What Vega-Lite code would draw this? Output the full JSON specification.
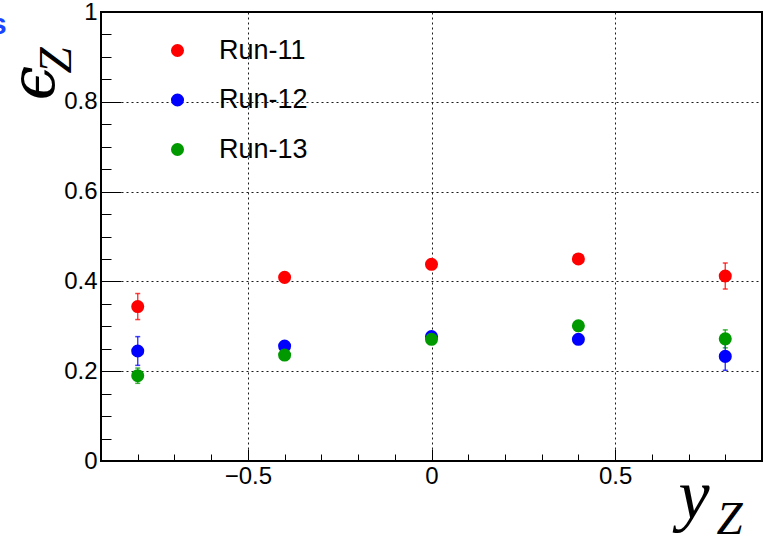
{
  "$schema": "https://vega.github.io/schema/vega-lite/v6.json",
  "width": 661,
  "height": 449,
  "autosize": {"type": "none"},
  "padding": {"left": 101, "top": 12, "right": 5, "bottom": 75},
  "background": "white",
  "title": {"text": "s", "anchor": "start", "frame": "group", "dx": -111, "offset": -40, "color": "#1a44ff", "fontSize": 30, "font": "Liberation Sans", "fontWeight": "bold"},
  "data": {
    "values": [
      {"run": "Run-11", "yz": -0.8, "eff": 0.344, "lo": 0.315, "hi": 0.373},
      {"run": "Run-11", "yz": -0.4, "eff": 0.409, "lo": 0.399, "hi": 0.419},
      {"run": "Run-11", "yz": 0.0, "eff": 0.438, "lo": 0.428, "hi": 0.448},
      {"run": "Run-11", "yz": 0.4, "eff": 0.450, "lo": 0.440, "hi": 0.460},
      {"run": "Run-11", "yz": 0.8, "eff": 0.412, "lo": 0.383, "hi": 0.441},
      {"run": "Run-12", "yz": -0.8, "eff": 0.245, "lo": 0.213, "hi": 0.277},
      {"run": "Run-12", "yz": -0.4, "eff": 0.256, "lo": 0.246, "hi": 0.266},
      {"run": "Run-12", "yz": 0.0, "eff": 0.277, "lo": 0.267, "hi": 0.287},
      {"run": "Run-12", "yz": 0.4, "eff": 0.271, "lo": 0.261, "hi": 0.281},
      {"run": "Run-12", "yz": 0.8, "eff": 0.233, "lo": 0.202, "hi": 0.264},
      {"run": "Run-13", "yz": -0.8, "eff": 0.190, "lo": 0.173, "hi": 0.207},
      {"run": "Run-13", "yz": -0.4, "eff": 0.236, "lo": 0.226, "hi": 0.246},
      {"run": "Run-13", "yz": 0.0, "eff": 0.271, "lo": 0.261, "hi": 0.281},
      {"run": "Run-13", "yz": 0.4, "eff": 0.301, "lo": 0.291, "hi": 0.311},
      {"run": "Run-13", "yz": 0.8, "eff": 0.272, "lo": 0.252, "hi": 0.292}
    ]
  },
  "resolve": {"axis": {"x": "independent", "y": "independent"}, "legend": {"color": "independent"}},
  "layer": [
    {
      "mark": {"type": "errorbar", "ticks": true, "thickness": 1.5},
      "encoding": {
        "x": {"field": "yz", "type": "quantitative", "scale": {"domain": [-0.9, 0.9], "nice": false, "zero": false},
              "axis": {"orient": "bottom", "values": [-0.8, -0.7, -0.6, -0.5, -0.4, -0.3, -0.2, -0.1, 0, 0.1, 0.2, 0.3, 0.4, 0.5, 0.6, 0.7, 0.8], "labels": false, "grid": false, "domain": false, "tickSize": -7, "title": "Z", "titleFontSize": 47, "titleFont": "Liberation Serif", "titleFontStyle": "italic", "titleX": 615, "titleY": 72, "titleAlign": "left", "titleBaseline": "alphabetic"}},
        "y": {"field": "lo", "type": "quantitative", "scale": {"domain": [0, 1], "nice": false, "zero": false},
              "axis": {"orient": "left", "values": [0, 0.05, 0.1, 0.15, 0.2, 0.25, 0.3, 0.35, 0.4, 0.45, 0.5, 0.55, 0.6, 0.65, 0.7, 0.75, 0.8, 0.85, 0.9, 0.95, 1], "labels": false, "grid": false, "domain": false, "tickSize": -10, "title": "Z", "titleFontSize": 47, "titleFont": "Liberation Serif", "titleFontStyle": "italic", "titleAngle": 270, "titleX": -31, "titleY": 61, "titleAlign": "left", "titleBaseline": "alphabetic"}},
        "y2": {"field": "hi"},
        "color": {"field": "run", "type": "nominal", "scale": {"domain": ["Run-11", "Run-12", "Run-13"], "range": ["#ff0000", "#0000ff", "#009900"]}, "legend": null},
        "opacity": {"value": 0.75}
      }
    },
    {
      "mark": {"type": "circle", "size": 170, "opacity": 1},
      "encoding": {
        "x": {"field": "yz", "type": "quantitative",
              "axis": {"orient": "bottom", "values": [-0.5, 0, 0.5], "format": "~g", "grid": true, "domain": false, "tickSize": -12, "labelPadding": 15, "title": "y", "titleFontSize": 70, "titleFont": "Liberation Serif", "titleFontStyle": "italic", "titleX": 577, "titleY": 56, "titleAlign": "left", "titleBaseline": "alphabetic"}},
        "y": {"field": "eff", "type": "quantitative",
              "axis": {"orient": "left", "values": [0, 0.2, 0.4, 0.6, 0.8, 1], "format": "~g", "grid": true, "domain": false, "tickSize": -20, "labelPadding": 24, "title": "ϵ", "titleFontSize": 62, "titleFont": "DejaVu Serif", "titleFontStyle": "italic", "titleAngle": 270, "titleX": -48, "titleY": 88, "titleAlign": "left", "titleBaseline": "alphabetic"}},
        "color": {"field": "run", "type": "nominal", "scale": {"domain": ["Run-11", "Run-12", "Run-13"], "range": ["#ff0000", "#0000ff", "#009900"]},
                  "legend": {"orient": "none", "legendX": 63, "legendY": 25, "title": null, "symbolType": "circle", "symbolSize": 170, "symbolStrokeWidth": 0, "labelFont": "Liberation Sans", "labelFontSize": 27, "labelColor": "black", "labelOffset": 28, "rowPadding": 21.5, "padding": 0}}
      }
    }
  ],
  "config": {
    "view": {"stroke": "black", "strokeWidth": 2},
    "axis": {"labelFont": "Liberation Sans", "labelFontSize": 24, "labelColor": "black", "tickColor": "black", "tickWidth": 1, "gridColor": "black", "gridDash": [2, 3], "gridOpacity": 0.9, "titleColor": "black", "titleFontWeight": "normal"}
  }
}
